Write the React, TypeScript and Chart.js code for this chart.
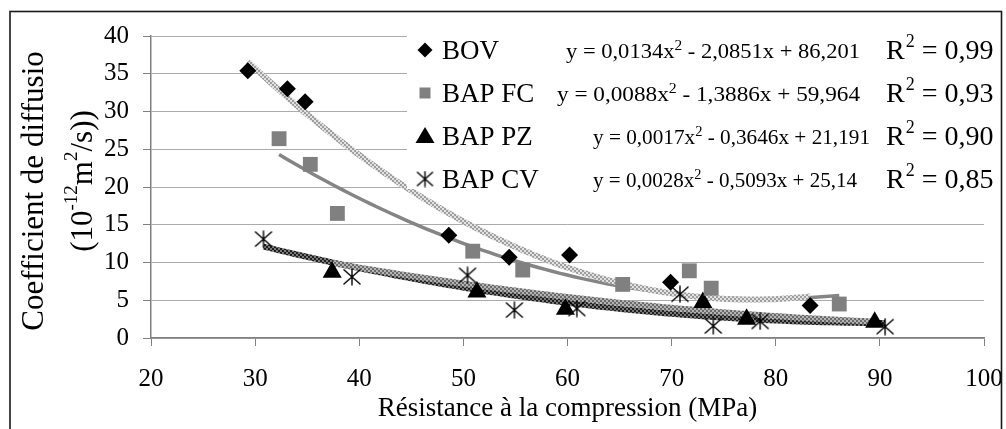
import React, { useEffect, useRef } from "react";
import { Chart, registerables } from "chart.js";

Chart.register(...registerables);

const FONT = '"Liberation Serif", serif';

// ---- data ----
const seriesNames = ["BOV", "BAP FC", "BAP PZ", "BAP CV"];
const bovX = [29.3, 33.1, 34.8, 48.6, 54.4, 60.2, 69.9, 83.3];
const bovY = [35.4, 33.0, 31.3, 13.6, 10.7, 11.0, 7.4, 4.3];
const fcX = [32.3, 35.3, 37.9, 50.9, 55.7, 65.3, 71.7, 73.8, 86.1];
const fcY = [26.4, 23.0, 16.5, 11.5, 9.0, 7.1, 8.9, 6.6, 4.5];
const pzX = [37.4, 51.3, 59.8, 73.0, 77.2, 89.5];
const pzY = [8.7, 6.1, 3.8, 4.7, 2.5, 2.1];
const cvX = [30.8, 39.3, 50.4, 54.9, 60.9, 70.8, 74.0, 78.5, 90.5];
const cvY = [13.1, 8.1, 8.3, 3.7, 3.9, 5.8, 1.6, 2.2, 1.5];

// displayed trendline equations y = a x^2 + b x + c
const trendA = [0.0134, 0.0088, 0.0017, 0.0028];
const trendB = [-2.0851, -1.3886, -0.3646, -0.5093];
const trendC = [86.201, 59.964, 21.191, 25.14];
const eqPart1 = ["y = 0,0134x", "y = 0,0088x", "y = 0,0017x", "y = 0,0028x"];
const eqPart2 = [" - 2,0851x + 86,201", " - 1,3886x + 59,964", " - 0,3646x + 21,191", " - 0,5093x + 25,14"];
const r2Values = ["0,99", "0,93", "0,90", "0,85"];

const xMin = 20, xMax = 100, xStep = 10;
const yMin = 0, yMax = 40, yStep = 5;
const xTitle = "Résistance à la compression (MPa)";
const yTitleLine1 = "Coefficient de diffusio";

// ---- layout constants ----
const W = 1006, H = 429;
const legendRowsY = [50, 93, 136, 179];
const eqStartX = [566, 557, 593, 593];
const eqEndX = [860, 860, 870, 857];
const r2StartX = 886;

function makeChecker(ctx: CanvasRenderingContext2D, c1: string, c2: string, cell: number) {
  const cv = document.createElement("canvas");
  cv.width = cell * 2;
  cv.height = cell * 2;
  const g = cv.getContext("2d")!;
  g.fillStyle = c1;
  g.fillRect(0, 0, cell * 2, cell * 2);
  g.fillStyle = c2;
  g.fillRect(0, 0, cell, cell);
  g.fillRect(cell, cell, cell, cell);
  return ctx.createPattern(cv, "repeat")!;
}

function makeStar(w: number, h: number, lw: number) {
  const cv = document.createElement("canvas");
  cv.width = w;
  cv.height = h;
  const g = cv.getContext("2d")!;
  g.strokeStyle = "#000";
  g.lineWidth = lw;
  g.beginPath();
  g.moveTo(w / 2, 0.5);
  g.lineTo(w / 2, h - 0.5);
  g.moveTo(1.5, 1.5);
  g.lineTo(w - 1.5, h - 1.5);
  g.moveTo(w - 1.5, 1.5);
  g.lineTo(1.5, h - 1.5);
  g.stroke();
  return cv;
}

function trendPoints(i: number, xs: number[]) {
  const lo = Math.min(...xs);
  const hi = Math.max(...xs);
  const n = 80;
  const pts: { x: number; y: number }[] = [];
  for (let k = 0; k <= n; k++) {
    const x = lo + ((hi - lo) * k) / n;
    pts.push({ x, y: trendA[i] * x * x + trendB[i] * x + trendC[i] });
  }
  return pts;
}

function zip(xs: number[], ys: number[]) {
  return xs.map((x, i) => ({ x, y: ys[i] }));
}

export default function App() {
  const canvasRef = useRef<HTMLCanvasElement | null>(null);

  useEffect(() => {
    document.body.style.margin = "0";
    let chart: Chart | null = null;
    let cancelled = false;

    const build = () => {
      if (cancelled) return;
      const canvas = canvasRef.current!;
      const ctx0 = canvas.getContext("2d")!;
      const star = makeStar(20, 18, 1.4);
      const legendStar = makeStar(19, 17, 1.4);
      const bovPat = makeChecker(ctx0, "#e2e2e2", "#9e9e9e", 2);
      const pzPat = makeChecker(ctx0, "#b4b4b4", "#6a6a6a", 2);
      const cvPat = makeChecker(ctx0, "#7a7a7a", "#1e1e1e", 2);

      const drawLegendMarker = (ctx: CanvasRenderingContext2D, i: number, x: number, y: number) => {
        ctx.save();
        if (i === 0) {
          ctx.fillStyle = "#000";
          ctx.beginPath();
          ctx.moveTo(x, y - 7.5);
          ctx.lineTo(x + 7.5, y);
          ctx.lineTo(x, y + 7.5);
          ctx.lineTo(x - 7.5, y);
          ctx.closePath();
          ctx.fill();
        } else if (i === 1) {
          ctx.fillStyle = "#808080";
          ctx.fillRect(x - 5.5, y - 5.5, 11, 11);
        } else if (i === 2) {
          ctx.fillStyle = "#000";
          ctx.beginPath();
          ctx.moveTo(x, y - 9);
          ctx.lineTo(x + 9.5, y + 7);
          ctx.lineTo(x - 9.5, y + 7);
          ctx.closePath();
          ctx.fill();
        } else {
          ctx.drawImage(legendStar, x - legendStar.width / 2, y - legendStar.height / 2);
        }
        ctx.restore();
      };

      const overlay = {
        id: "overlay",
        beforeDraw(c: any) {
          const ctx = c.ctx as CanvasRenderingContext2D;
          ctx.save();
          ctx.fillStyle = "#fff";
          ctx.fillRect(0, 0, W, H);
          ctx.restore();
        },
        afterDraw(c: any) {
          const ctx = c.ctx as CanvasRenderingContext2D;
          ctx.save();
          ctx.fillStyle = "#fff";
          ctx.fillRect(407, 14, 591, 175);
          ctx.fillStyle = "#000";
          ctx.textBaseline = "alphabetic";
          ctx.textAlign = "left";
          for (let i = 0; i < seriesNames.length; i++) {
            const cy = legendRowsY[i];
            const base = cy + 9;
            drawLegendMarker(ctx, i, 425, cy);
            ctx.font = `27px ${FONT}`;
            ctx.fillText(seriesNames[i], 442, base);

            const f1 = `22px ${FONT}`;
            const fs = `15px ${FONT}`;
            ctx.font = f1;
            const w1 = ctx.measureText(eqPart1[i]).width;
            const w3 = ctx.measureText(eqPart2[i]).width;
            ctx.font = fs;
            const w2 = ctx.measureText("2").width;
            const total = w1 + w2 + w3;
            const sx = (eqEndX[i] - eqStartX[i]) / total;
            ctx.save();
            ctx.translate(eqStartX[i], base - 1);
            ctx.scale(sx, 1);
            ctx.font = f1;
            ctx.fillText(eqPart1[i], 0, 0);
            ctx.font = fs;
            ctx.fillText("2", w1, -8);
            ctx.font = f1;
            ctx.fillText(eqPart2[i], w1 + w2, 0);
            ctx.restore();

            ctx.font = `28px ${FONT}`;
            const wr = ctx.measureText("R").width;
            ctx.fillText("R", r2StartX, base);
            ctx.font = `18px ${FONT}`;
            const ws = ctx.measureText("2").width;
            ctx.fillText("2", r2StartX + wr + 1, base - 12);
            ctx.font = `28px ${FONT}`;
            ctx.fillText(" = " + r2Values[i], r2StartX + wr + ws + 1, base);
          }

          // y-axis title
          ctx.save();
          ctx.translate(43, 191);
          ctx.rotate(-Math.PI / 2);
          ctx.font = `31px ${FONT}`;
          ctx.textAlign = "center";
          ctx.fillText(yTitleLine1, 0, 0);
          ctx.restore();

          const pieces = [
            { t: "(10", sup: false },
            { t: "-12", sup: true },
            { t: "m", sup: false },
            { t: "2", sup: true },
            { t: "/s))", sup: false },
          ];
          const mainF = `31px ${FONT}`;
          const supF = `19px ${FONT}`;
          let tw = 0;
          const widths = pieces.map((p) => {
            ctx.font = p.sup ? supF : mainF;
            const w = ctx.measureText(p.t).width;
            tw += w;
            return w;
          });
          ctx.save();
          ctx.translate(92, 181);
          ctx.rotate(-Math.PI / 2);
          ctx.textAlign = "left";
          let px = -tw / 2;
          pieces.forEach((p, k) => {
            ctx.font = p.sup ? supF : mainF;
            ctx.fillText(p.t, px, p.sup ? -15 : 0);
            px += widths[k];
          });
          ctx.restore();

          ctx.strokeStyle = "#1a1a1a";
          ctx.lineWidth = 1.6;
          ctx.strokeRect(10, 11.5, 991.5, 500);
          ctx.restore();
        },
      };

      chart = new Chart(canvas, {
        type: "scatter",
        data: {
          datasets: [
            {
              label: seriesNames[0],
              data: zip(bovX, bovY),
              pointStyle: "rectRot",
              pointRadius: 8.5,
              backgroundColor: "#000",
              borderColor: "#000",
              borderWidth: 0,
            },
            {
              label: seriesNames[1],
              data: zip(fcX, fcY),
              pointStyle: "rect",
              pointRadius: 10.5,
              backgroundColor: "#808080",
              borderColor: "#808080",
              borderWidth: 0,
            },
            {
              label: seriesNames[2],
              data: zip(pzX, pzY),
              pointStyle: "triangle",
              pointRadius: 11,
              backgroundColor: "#000",
              borderColor: "#000",
              borderWidth: 0,
            },
            {
              label: seriesNames[3],
              data: zip(cvX, cvY),
              pointStyle: star as any,
              pointRadius: 10,
              backgroundColor: "#000",
              borderColor: "#000",
            },
            {
              label: "trend BOV",
              data: trendPoints(0, bovX),
              showLine: true,
              pointRadius: 0,
              borderColor: bovPat as any,
              borderWidth: 6,
              tension: 0,
            },
            {
              label: "trend FC",
              data: trendPoints(1, fcX),
              showLine: true,
              pointRadius: 0,
              borderColor: "#858585",
              borderWidth: 3.5,
              tension: 0,
            },
            {
              label: "trend PZ",
              data: trendPoints(2, pzX),
              showLine: true,
              pointRadius: 0,
              borderColor: pzPat as any,
              borderWidth: 6,
              tension: 0,
            },
            {
              label: "trend CV",
              data: trendPoints(3, cvX),
              showLine: true,
              pointRadius: 0,
              borderColor: cvPat as any,
              borderWidth: 6,
              tension: 0,
            },
          ],
        },
        options: {
          responsive: false,
          animation: false,
          devicePixelRatio: 1,
          layout: { padding: { left: 0, top: 36, right: 22, bottom: 0 } },
          plugins: {
            legend: { display: false },
            tooltip: { enabled: false },
          },
          scales: {
            x: {
              type: "linear",
              min: xMin,
              max: xMax,
              afterFit: (s: any) => {
                s.height = 91;
                s.paddingLeft = 0;
                s.paddingRight = 0;
              },
              ticks: {
                stepSize: xStep,
                autoSkip: false,
                maxRotation: 0,
                padding: 18,
                color: "#000",
                font: { family: FONT, size: 25 },
              },
              grid: {
                drawOnChartArea: false,
                drawTicks: true,
                tickLength: 8,
                color: "#808080",
              },
              border: { color: "#808080", width: 1.5 },
              title: {
                display: true,
                text: xTitle,
                color: "#000",
                font: { family: FONT, size: 27 },
                padding: { top: 0, bottom: 4 },
              },
            },
            y: {
              type: "linear",
              min: yMin,
              max: yMax,
              afterFit: (s: any) => {
                s.width = 151;
                s.paddingTop = 0;
                s.paddingBottom = 0;
              },
              ticks: {
                stepSize: yStep,
                padding: 14,
                color: "#000",
                font: { family: FONT, size: 25 },
              },
              grid: {
                drawOnChartArea: true,
                drawTicks: true,
                tickLength: 8,
                color: "#ababab",
                tickColor: "#808080",
              },
              border: { color: "#808080", width: 1.5 },
            },
          },
        },
        plugins: [overlay],
      });
    };

    const fonts: any = (document as any).fonts;
    if (fonts && fonts.load) {
      Promise.all([fonts.load('25px "Liberation Serif"')])
        .catch(() => null)
        .then(() => build());
    } else {
      build();
    }

    return () => {
      cancelled = true;
      if (chart) chart.destroy();
    };
  }, []);

  return (
    <div style={{ position: "absolute", left: 0, top: 0, width: W, height: H }}>
      <canvas ref={canvasRef} width={W} height={H} style={{ display: "block" }} />
    </div>
  );
}
